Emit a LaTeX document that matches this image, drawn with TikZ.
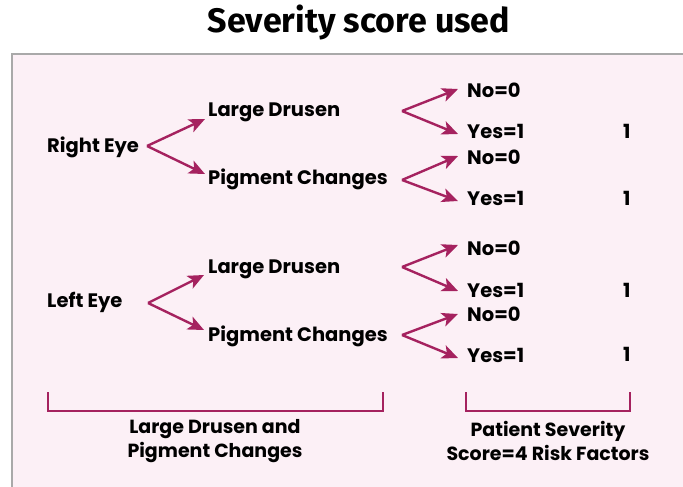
\documentclass[tikz,border=0pt]{standalone}
\usepackage{fontspec}
\setmainfont{Poppins}
\newfontfamily\titlefont{Fira Sans}
\usetikzlibrary{arrows.meta}

\definecolor{boxfill}{HTML}{FCF0F6}
\definecolor{boxline}{HTML}{A9A9A9}
\definecolor{branch}{HTML}{A5225F}

\tikzset{
	lbl/.style={anchor=west, inner sep=0pt, text height=13pt, text depth=0pt, font=\fontsize{19.5}{22}\selectfont\bfseries},
	caption/.style={align=center, inner sep=0pt, font=\fontsize{19}{24}\selectfont\bfseries},
	arr/.style={draw=branch, line width=2.4pt, -{Stealth[length=16pt, width=14pt, inset=4pt]}},
	brace/.style={draw=branch, line width=1.8pt}
}

\begin{document}
\begin{tikzpicture}[x=1pt, y=-1pt]
	\useasboundingbox (0, 0) rectangle (683, 487);
	\clip (0, 0) rectangle (683, 487);

	\draw[boxline, fill=boxfill, line width=2pt] (12, 54) rectangle (700, 500);

	\node[font=\titlefont\fontsize{34}{40}\selectfont\bfseries] (title) at (359, 22) {Severity score used};

	\node[lbl] (re) at (47, 146) {Right Eye};
	\node[lbl] (reld) at (208, 110) {Large Drusen};
	\node[lbl] (repc) at (208, 178) {Pigment Changes};
	\node[lbl] (reldno) at (467, 91) {No=0};
	\node[lbl] (reldyes) at (467, 132) {Yes=1};
	\node[lbl] (repcno) at (467, 158) {No=0};
	\node[lbl] (repcyes) at (467, 199) {Yes=1};
	\node[lbl] (reldone) at (623, 132) {1};
	\node[lbl] (repcone) at (623, 199) {1};

	\node[lbl] (le) at (47, 301) {Left Eye};
	\node[lbl] (leld) at (208, 267) {Large Drusen};
	\node[lbl] (lepc) at (208, 335) {Pigment Changes};
	\node[lbl] (leldno) at (467, 249) {No=0};
	\node[lbl] (leldyes) at (467, 291) {Yes=1};
	\node[lbl] (lepcno) at (467, 315) {No=0};
	\node[lbl] (lepcyes) at (467, 356) {Yes=1};
	\node[lbl] (leldone) at (623, 291) {1};
	\node[lbl] (lepcone) at (623, 355) {1};

	\coordinate (reldfork) at (402, 111);
	\coordinate (repcfork) at (402, 180);
	\coordinate (leldfork) at (402, 267);
	\coordinate (lepcfork) at (402, 335);
	\coordinate (refork) at (147, 146);
	\coordinate (lefork) at (148, 303);

	\draw[arr] (refork) -- ([xshift=-3pt, yshift=-9pt]reld.west);
	\draw[arr] (refork) -- ([xshift=-3pt, yshift=4pt]repc.west);
	\draw[arr] (reldfork) -- ([xshift=-9pt, yshift=2pt]reldno.west);
	\draw[arr] (reldfork) -- ([xshift=-9pt, yshift=-2pt]reldyes.west);
	\draw[arr] (repcfork) -- ([xshift=-9pt, yshift=2pt]repcno.west);
	\draw[arr] (repcfork) -- ([xshift=-9pt, yshift=-2pt]repcyes.west);

	\draw[arr] (lefork) -- ([xshift=-4pt, yshift=-8pt]leld.west);
	\draw[arr] (lefork) -- ([xshift=-4pt, yshift=5pt]lepc.west);
	\draw[arr] (leldfork) -- ([xshift=-9pt, yshift=4pt]leldno.west);
	\draw[arr] (leldfork) -- ([xshift=-9pt, yshift=0pt]leldyes.west);
	\draw[arr] (lepcfork) -- ([xshift=-9pt, yshift=1pt]lepcno.west);
	\draw[arr] (lepcfork) -- ([xshift=-9pt, yshift=-2pt]lepcyes.west);

	\coordinate (lbrl) at (48, 392);
	\coordinate (lbrr) at (383, 392);
	\coordinate (rbrl) at (466, 392);
	\coordinate (rbrr) at (630, 392);
	\draw[brace] (lbrl) |- (lbrr |- 0, 411) -- (lbrr);
	\draw[brace] (rbrl) |- (rbrr |- 0, 411) -- (rbrr);

	\node[caption] (ldpc) at (215, 441) {Large Drusen and\\Pigment Changes};
	\node[caption] (score) at (548, 441) {Patient Severity\\Score=4 Risk Factors};
\end{tikzpicture}
\end{document}
